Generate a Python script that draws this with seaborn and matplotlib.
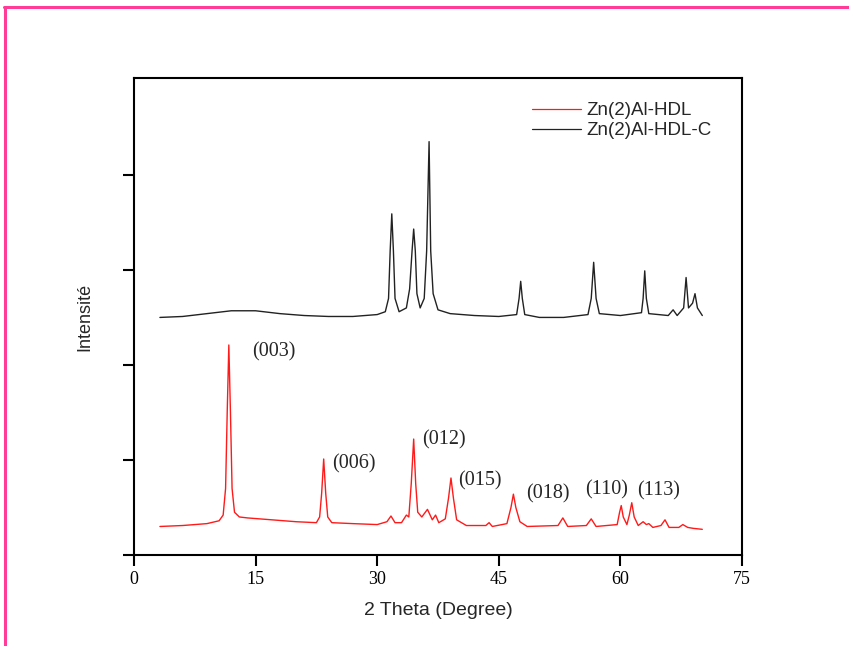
import matplotlib
matplotlib.use("Agg")
import matplotlib.pyplot as plt
from matplotlib.lines import Line2D
import seaborn as sns
import pandas as pd

# ---- data ----
hdl_x = [3.2, 6, 9, 10.5, 11.0, 11.3, 11.5, 11.7, 11.9, 12.1, 12.4, 13, 14, 17, 20, 22.5, 22.9, 23.15, 23.4,
         23.65, 23.9, 24.4, 27, 30, 31.2, 31.7, 32.2, 33.0, 33.6, 33.9, 34.2, 34.5, 34.75, 35.0, 35.5, 36.2,
         36.8, 37.2, 37.6, 38.4, 38.8, 39.1, 39.4, 39.8, 41, 43.4, 43.8, 44.2, 46.0, 46.5, 46.8, 47.1, 47.6,
         48.5, 52.3, 52.9, 53.5, 55.8, 56.4, 57.0, 59.6, 59.9, 60.1, 60.35, 60.8, 61.1, 61.4, 61.7, 62.2, 62.8,
         63.2, 63.5, 64.0, 65.0, 65.5, 66.0, 67.2, 67.7, 68.3, 69.0, 70.1]
hdl_y = [0.30, 0.31, 0.33, 0.36, 0.42, 0.7, 1.5, 2.21, 1.5, 0.7, 0.45, 0.40, 0.39, 0.37, 0.35, 0.34, 0.40, 0.65,
         1.01, 0.65, 0.40, 0.34, 0.33, 0.32, 0.35, 0.41, 0.34, 0.34, 0.42, 0.40, 0.75, 1.22, 0.75, 0.45, 0.40,
         0.48, 0.37, 0.42, 0.34, 0.38, 0.6, 0.81, 0.6, 0.37, 0.31, 0.31, 0.34, 0.30, 0.33, 0.5, 0.64, 0.5, 0.35,
         0.30, 0.31, 0.39, 0.30, 0.31, 0.38, 0.30, 0.32, 0.45, 0.52, 0.40, 0.32, 0.42, 0.55, 0.40, 0.31, 0.35,
         0.32, 0.33, 0.29, 0.31, 0.37, 0.29, 0.29, 0.32, 0.29, 0.28, 0.27]

hdlc_x = [3.2, 6, 9, 12, 15, 18, 21, 24, 27, 30, 31.0, 31.4, 31.6, 31.8, 32.0, 32.2, 32.7, 33.6, 34.0, 34.3,
          34.5, 34.7, 34.9, 35.3, 35.8, 36.1, 36.4, 36.6, 36.9, 37.5, 39, 42, 45, 47.2, 47.5, 47.7, 47.9, 48.2,
          50, 53, 56, 56.4, 56.7, 57.0, 57.4, 60, 62.6, 62.8, 63.0, 63.2, 63.5, 65.9, 66.5, 67.0, 67.8, 68.1,
          68.4, 68.9, 69.2, 69.5, 70.1]
hdlc_y = [2.50, 2.51, 2.54, 2.57, 2.57, 2.54, 2.52, 2.51, 2.51, 2.53, 2.56, 2.7, 3.2, 3.59, 3.2, 2.7, 2.56, 2.6,
          2.8, 3.2, 3.43, 3.2, 2.75, 2.6, 2.7, 3.2, 4.35, 3.2, 2.75, 2.58, 2.54, 2.52, 2.51, 2.53, 2.7, 2.88,
          2.7, 2.53, 2.50, 2.50, 2.53, 2.7, 3.08, 2.7, 2.54, 2.52, 2.55, 2.7, 2.99, 2.7, 2.54, 2.52, 2.58, 2.52,
          2.6, 2.92, 2.6, 2.65, 2.75, 2.6, 2.52]

series_names = ["Zn(2)Al-HDL", "Zn(2)Al-HDL-C"]
hkl_labels = ["(003)", "(006)", "(012)", "(015)", "(018)", "(110)", "(113)"]
hkl_x = [14.6, 24.5, 35.6, 40.0, 48.4, 55.6, 62.0]
hkl_y = [2.14, 0.96, 1.21, 0.78, 0.64, 0.69, 0.68]
x_ticks = [0, 15, 30, 45, 60, 75]
y_ticks = [0, 1, 2, 3, 4]

df = pd.concat([
    pd.DataFrame({"x": hdl_x, "y": hdl_y, "s": series_names[0]}),
    pd.DataFrame({"x": hdlc_x, "y": hdlc_y, "s": series_names[1]}),
])

sns.set_style("ticks")
fig = plt.figure(figsize=(8.49, 6.46), dpi=100)
ax = fig.add_axes([0.1578, 0.1409, 0.874 - 0.1578, 0.8793 - 0.1409])

sns.lineplot(data=df, x="x", y="y", hue="s", hue_order=series_names,
             palette={series_names[0]: "#ff1a1a", series_names[1]: "#222222"},
             estimator=None, sort=False, linewidth=1.0, ax=ax)

ax.set_xlim(0, 75)
ax.set_ylim(0, 5.02)
ax.set_xticks(x_ticks)
ax.set_xticklabels([str(t) for t in x_ticks], family="Liberation Serif", fontsize=13)
ax.set_yticks(y_ticks)
ax.set_yticklabels([])
for s in ax.spines.values():
    s.set_linewidth(1.5)
    s.set_color("black")
ax.tick_params(direction="out", length=8, width=1.5, colors="black")

ax.set_xlabel("2 Theta (Degree)", family="Liberation Sans", fontsize=14, labelpad=10)
ax.set_ylabel("Intensité", family="Liberation Sans", fontsize=13, labelpad=18)

for lab, xx, yy in zip(hkl_labels, hkl_x, hkl_y):
    ax.text(xx, yy, lab, family="Liberation Serif", fontsize=14.5, ha="left", va="center")

leg = ax.legend(loc="upper right", frameon=False, handlelength=2.6,
                bbox_to_anchor=(0.978, 0.985), labelspacing=0.15, handletextpad=0.3,
                prop={"family": "Liberation Sans", "size": 13.5})
for l in leg.get_lines():
    l.set_linewidth(0.9)

# pink frame
pink = "#ff3d99"
fig.add_artist(Line2D([0.005, 1.0], [1 - 7 / 646, 1 - 7 / 646], color=pink, lw=2.2, transform=fig.transFigure))
fig.add_artist(Line2D([0.006, 0.006], [0.0, 1 - 7 / 646], color=pink, lw=2.2, transform=fig.transFigure))

fig.savefig("out.png", dpi=100)
